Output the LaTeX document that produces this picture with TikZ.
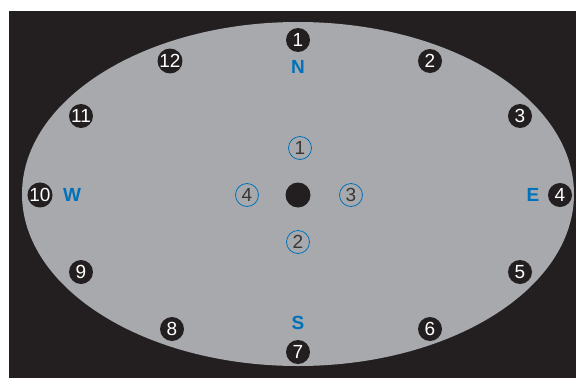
\documentclass[tikz,border=0pt]{standalone}
\usepackage{fontspec}
\setmainfont{Liberation Sans}
\definecolor{bgblack}{RGB}{35,31,32}
\definecolor{plate}{RGB}{167,169,172}
\definecolor{compass}{RGB}{0,114,188}
\definecolor{darktext}{RGB}{55,55,55}
\begin{document}
\begin{tikzpicture}[x=1pt,y=-1pt,
  hour/.style={circle,fill=bgblack,text=white,minimum size=24pt,inner sep=0pt,font=\fontsize{19}{19}\selectfont},
  dir/.style={text=compass,font=\fontsize{19}{19}\selectfont\bfseries,inner sep=0pt},
  inner/.style={circle,draw=compass,line width=0.8pt,text=darktext,minimum size=23pt,inner sep=0pt,font=\fontsize{19}{19}\selectfont}]
\useasboundingbox (0,0) rectangle (576,378);
\fill[bgblack] (9,11) rectangle (576,378);
\fill[plate] (298,194) ellipse [x radius=276, y radius=172];
\node[hour] (h1) at (298,40) {1};
\node[hour] (h2) at (430,61) {2};
\node[hour] (h3) at (520,116) {3};
\node[hour] (h4) at (560,195) {4};
\node[hour] (h5) at (520,272) {5};
\node[hour] (h6) at (430,329) {6};
\node[hour] (h7) at (298,352) {7};
\node[hour] (h8) at (172,329) {8};
\node[hour] (h9) at (81,272) {9};
\node[hour] (h10) at (40,195) {10};
\node[hour] (h11) at (81,116) {11};
\node[hour] (h12) at (170,61) {12};
\node[dir] (N) at (298,67) {N};
\node[dir] (S) at (298,323) {S};
\node[dir] (W) at (72,195) {W};
\node[dir] (E) at (533,195) {E};
\node[circle,fill=bgblack,minimum size=25pt,inner sep=0pt] (c) at (298,195) {};
\node[inner] (i1) at (300,148) {1};
\node[inner] (i2) at (298,242) {2};
\node[inner] (i3) at (351,195) {3};
\node[inner] (i4) at (247,195) {4};
\end{tikzpicture}
\end{document}
